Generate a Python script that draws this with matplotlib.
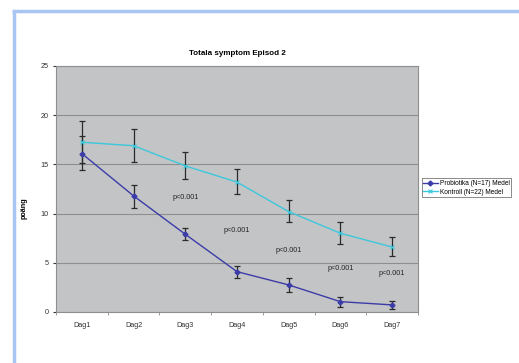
import matplotlib
matplotlib.use('Agg')
import matplotlib.pyplot as plt
from matplotlib.lines import Line2D
import numpy as np

# ── Data ──────────────────────────────────────────────────────────────────
days = ['Dag1', 'Dag2', 'Dag3', 'Dag4', 'Dag5', 'Dag6', 'Dag7']
probiotika = [16.1, 11.8, 7.9, 4.1, 2.75, 1.05, 0.72]
probiotika_hi = [17.9, 12.9, 8.5, 4.7, 3.5, 1.55, 1.1]
probiotika_lo = [14.4, 10.6, 7.3, 3.5, 2.0, 0.55, 0.35]
kontroll = [17.25, 16.9, 14.85, 13.2, 10.2, 8.0, 6.6]
kontroll_hi = [19.4, 18.6, 16.3, 14.5, 11.4, 9.1, 7.6]
kontroll_lo = [15.1, 15.2, 13.5, 12.0, 9.1, 6.9, 5.7]
p_text = ['p<0.001'] * 5
p_days = [2, 3, 4, 5, 6]
p_y = [11.6, 8.3, 6.2, 4.4, 3.9]

W, H = 519, 363
fig = plt.figure(figsize=(W / 100, H / 100), dpi=100)
plt.rcParams['font.family'] = ['Liberation Sans', 'DejaVu Sans']

# light blue slide frame
frame = '#a9c5f2'
fig.add_artist(Line2D([13.5 / W, 13.5 / W], [0, 1 - 10.5 / H], transform=fig.transFigure,
                      color=frame, lw=2.5, solid_capstyle='butt'))
fig.add_artist(Line2D([12.2 / W, 1], [1 - 11 / H, 1 - 11 / H], transform=fig.transFigure,
                      color=frame, lw=2.5, solid_capstyle='butt'))

ax = fig.add_axes([56 / W, 1 - 312 / H, (418 - 56) / W, (312 - 66) / H])
ax.set_facecolor('#c3c4c6')

x = np.arange(len(days))
p = np.array(probiotika)
k = np.array(kontroll)

ax.errorbar(x, p, yerr=[p - np.array(probiotika_lo), np.array(probiotika_hi) - p],
            fmt='none', ecolor='#2a2a2a', elinewidth=0.9, capsize=2.2, capthick=0.9, zorder=3)
ax.errorbar(x, k, yerr=[k - np.array(kontroll_lo), np.array(kontroll_hi) - k],
            fmt='none', ecolor='#2a2a2a', elinewidth=0.9, capsize=2.2, capthick=0.9, zorder=3)
ax.plot(x, p, color='#3c3ca8', lw=1.0, marker='D', ms=2.5, zorder=4,
        label='Probiotika (N=17) Medel')
ax.plot(x, k, color='#3cc8dc', lw=1.0, marker='x', ms=3, mew=0.8, zorder=4,
        label='Kontroll (N=22) Medel')

for d, yv, t in zip(p_days, p_y, p_text):
    ax.text(d, yv, t, ha='center', va='center', fontsize=5.2, color='#222222')

ax.set_xlim(-0.5, len(days) - 0.5)
ax.set_ylim(0, 25)
ax.set_yticks([0, 5, 10, 15, 20, 25])
ax.set_xticks(x)
ax.set_xticklabels(days)
ax.set_xticks(np.arange(-0.5, len(days), 1), minor=True)
ax.tick_params(axis='x', which='major', length=0, labelsize=5.2, pad=7, colors='#333333')
ax.tick_params(axis='x', which='minor', length=2, color='#888888')
ax.tick_params(axis='y', length=2.5, labelsize=5.2, pad=3, colors='#333333')
ax.grid(axis='y', color='#8e8e8e', lw=0.8)
ax.set_axisbelow(True)
for s in ax.spines.values():
    s.set_color('#8e8e8e')
    s.set_linewidth(0.8)

ax.set_title('Totala symptom Episod 2', fontsize=5.8, fontweight='bold', pad=8)
ax.set_ylabel('poäng', fontsize=5.2, fontweight='bold')
ax.yaxis.set_label_coords(-0.08, 0.42)

leg = ax.legend(loc='center left', bbox_to_anchor=(1.01, 0.505), fontsize=4.7,
                frameon=True, fancybox=False, edgecolor='#555555', borderpad=0.25,
                handlelength=2.2, handletextpad=0.3, labelspacing=0.25, borderaxespad=0)
leg.get_frame().set_linewidth(0.6)

fig.savefig('out.png', dpi=100, facecolor='white')
